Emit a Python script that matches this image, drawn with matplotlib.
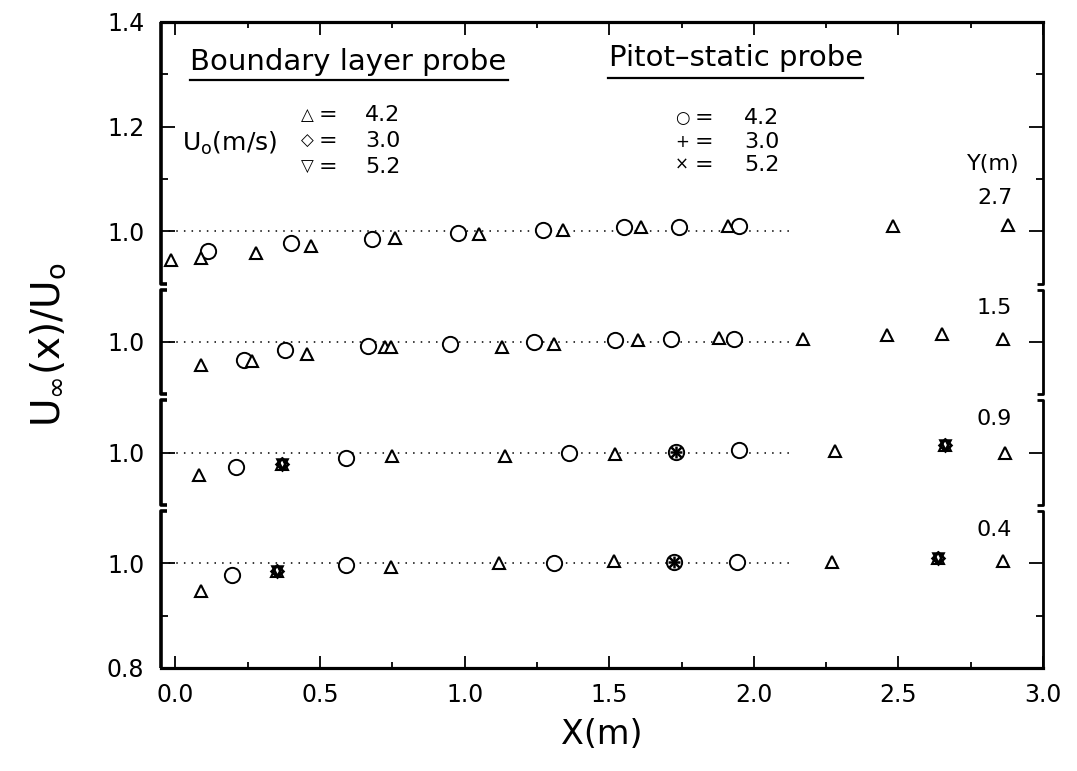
import matplotlib
matplotlib.use("Agg")
import matplotlib.pyplot as plt
import matplotlib.transforms as mtransforms
from matplotlib.ticker import FixedLocator, MultipleLocator

plt.rcParams['font.family'] = ['DejaVu Sans']
plt.rcParams['mathtext.fontset'] = 'dejavusans'

# ---------------- data ----------------
station_labels = ["2.7", "1.5", "0.9", "0.4"]          # Y(m), top to bottom
x_ticks = [0.0, 0.5, 1.0, 1.5, 2.0, 2.5, 3.0]
x_tick_labels = ["0.0", "0.5", "1.0", "1.5", "2.0", "2.5", "3.0"]

# Y = 2.7 m
y27_bl42_x = [-0.017, 0.09, 0.28, 0.47, 0.76, 1.05, 1.34, 1.61, 1.91, 2.48, 2.88]
y27_bl42_u = [0.945, 0.948, 0.958, 0.971, 0.988, 0.994, 1.002, 1.008, 1.010, 1.010, 1.011]
y27_ps42_x = [0.113, 0.40, 0.68, 0.976, 1.27, 1.55, 1.74, 1.95]
y27_ps42_u = [0.962, 0.978, 0.985, 0.996, 1.002, 1.008, 1.009, 1.010]

# Y = 1.5 m
y15_bl42_x = [0.09, 0.265, 0.455, 0.725, 0.745, 1.13, 1.31, 1.60, 1.88, 2.17, 2.46, 2.65, 2.86]
y15_bl42_u = [0.956, 0.964, 0.977, 0.990, 0.991, 0.990, 0.997, 1.003, 1.007, 1.005, 1.013, 1.015, 1.005]
y15_ps42_x = [0.237, 0.38, 0.667, 0.95, 1.24, 1.52, 1.715, 1.93]
y15_ps42_u = [0.965, 0.984, 0.992, 0.997, 1.000, 1.003, 1.006, 1.005]

# Y = 0.9 m
y09_bl42_x = [0.08, 0.37, 0.75, 1.14, 1.52, 2.28, 2.66, 2.87]
y09_bl42_u = [0.958, 0.979, 0.994, 0.994, 0.997, 1.004, 1.015, 1.000]
y09_bl30_x = [0.37, 2.66]
y09_bl30_u = [0.979, 1.015]
y09_bl52_x = [0.37, 2.66]
y09_bl52_u = [0.979, 1.015]
y09_ps42_x = [0.21, 0.59, 1.36, 1.73, 1.95]
y09_ps42_u = [0.973, 0.990, 1.000, 1.002, 1.005]
y09_ps30_x = [1.73]
y09_ps30_u = [1.002]
y09_ps52_x = [1.73]
y09_ps52_u = [1.002]

# Y = 0.4 m
y04_bl42_x = [0.09, 0.35, 0.745, 1.12, 1.515, 2.27, 2.635, 2.86]
y04_bl42_u = [0.948, 0.985, 0.993, 1.000, 1.004, 1.002, 1.011, 1.005]
y04_bl30_x = [0.35, 2.635]
y04_bl30_u = [0.985, 1.011]
y04_bl52_x = [0.35, 2.635]
y04_bl52_u = [0.985, 1.011]
y04_ps42_x = [0.196, 0.59, 1.31, 1.725, 1.94]
y04_ps42_u = [0.977, 0.996, 1.001, 1.003, 1.003]
y04_ps30_x = [1.725]
y04_ps30_u = [1.003]
y04_ps52_x = [1.725]
y04_ps52_u = [1.003]

# ---------------- layout ----------------
STEP = 0.2115                      # vertical shift between stacked stations
offsets = [3 * STEP, 2 * STEP, STEP, 0.0]   # top to bottom
Y_LO, Y_HI = 0.8, 1.4 + 3 * STEP

fig = plt.figure(figsize=(10.77, 7.71), dpi=100)
ax = fig.add_axes([0.1495, 0.1336, 0.819, 0.838])
ax.set_xlim(-0.05, 3.0)
ax.set_ylim(Y_LO, Y_HI)

K = 'black'
tri = dict(marker='^', ms=9, mfc='white', mec=K, mew=1.5, ls='none', zorder=4)
dia = dict(marker='D', ms=6, mfc='none', mec=K, mew=1.8, ls='none', zorder=5)
tdn = dict(marker='v', ms=7.5, mfc='none', mec=K, mew=1.8, ls='none', zorder=5)
cir = dict(marker='o', ms=11, mfc='white', mec=K, mew=1.4, ls='none', zorder=4)
pls = dict(marker='+', ms=9, mec=K, mew=1.8, ls='none', zorder=5)
crs = dict(marker='x', ms=7, mec=K, mew=1.8, ls='none', zorder=5)


def shifted(vals, off):
    return [v + off for v in vals]


# dotted reference lines at U/U0 = 1
for off in offsets:
    ax.hlines(1.0 + off, -0.05, 2.12, colors=K, linestyles=(0, (1, 4)),
              linewidth=1.1, zorder=2)

o27, o15, o09, o04 = offsets
ax.plot(y27_ps42_x, shifted(y27_ps42_u, o27), **cir)
ax.plot(y27_bl42_x, shifted(y27_bl42_u, o27), **tri)

ax.plot(y15_ps42_x, shifted(y15_ps42_u, o15), **cir)
ax.plot(y15_bl42_x, shifted(y15_bl42_u, o15), **tri)

ax.plot(y09_ps42_x, shifted(y09_ps42_u, o09), **cir)
ax.plot(y09_bl42_x, shifted(y09_bl42_u, o09), **tri)
ax.plot(y09_bl30_x, shifted(y09_bl30_u, o09), **dia)
ax.plot(y09_bl52_x, shifted(y09_bl52_u, o09), **tdn)
ax.plot(y09_ps30_x, shifted(y09_ps30_u, o09), **pls)
ax.plot(y09_ps52_x, shifted(y09_ps52_u, o09), **crs)

ax.plot(y04_ps42_x, shifted(y04_ps42_u, o04), **cir)
ax.plot(y04_bl42_x, shifted(y04_bl42_u, o04), **tri)
ax.plot(y04_bl30_x, shifted(y04_bl30_u, o04), **dia)
ax.plot(y04_bl52_x, shifted(y04_bl52_u, o04), **tdn)
ax.plot(y04_ps30_x, shifted(y04_ps30_u, o04), **pls)
ax.plot(y04_ps52_x, shifted(y04_ps52_u, o04), **crs)

# ---------------- frame: broken side axes drawn as brackets ----------------
for side in ('left', 'right'):
    ax.spines[side].set_visible(False)
for side in ('top', 'bottom'):
    ax.spines[side].set_linewidth(2.3)

trans = mtransforms.blended_transform_factory(ax.transAxes, ax.transData)
serif = 0.007
for i, off in enumerate(offsets):
    lo = Y_LO if i == len(offsets) - 1 else 0.9 + off
    hi = Y_HI if i == 0 else 1.1 + off
    for xs, sgn, lw in ((0.0, 1, 2.6), (1.0, -1, 2.0)):
        px = [xs, xs]
        py = [lo, hi]
        if i != len(offsets) - 1:
            px = [xs + sgn * serif] + px
            py = [lo] + py
        if i != 0:
            px = px + [xs + sgn * serif]
            py = py + [hi]
        ax.plot(px, py, color=K, lw=lw, transform=trans, clip_on=False,
                solid_capstyle='butt', zorder=6)

# ---------------- ticks ----------------
ax.xaxis.set_major_locator(FixedLocator(x_ticks))
ax.set_xticklabels(x_tick_labels)
ax.xaxis.set_minor_locator(MultipleLocator(0.25))
ax.tick_params(axis='x', which='both', direction='in', top=True, bottom=True,
               width=1.3, labelsize=17, pad=11)
ax.tick_params(axis='x', which='major', length=9)
ax.tick_params(axis='x', which='minor', length=4.5)

y_major = [0.8] + [1.0 + off for off in reversed(offsets)] + [1.2 + o27, 1.4 + o27]
y_major_labels = ["0.8", "1.0", "1.0", "1.0", "1.0", "1.2", "1.4"]
y_minor = [0.9, 1.1 + o27, 1.3 + o27]
ax.yaxis.set_major_locator(FixedLocator(y_major))
ax.set_yticklabels(y_major_labels)
ax.yaxis.set_minor_locator(FixedLocator(y_minor))
ax.tick_params(axis='y', which='both', direction='in', left=True, right=True,
               width=1.3, labelsize=17, pad=12)
ax.tick_params(axis='y', which='major', length=10)
ax.tick_params(axis='y', which='minor', length=5)

ax.set_xlabel("X(m)", fontsize=24, labelpad=8)
ax.set_ylabel(r"U$_\infty$(x)/U$_\mathrm{o}$", fontsize=28, labelpad=28)

# ---------------- annotations ----------------
def fx(px):
    return (px - 161) / 882.0


def fy(py):
    return (668 - py) / 646.0


ax.text(fx(190), fy(62), "Boundary layer probe", transform=ax.transAxes,
        fontsize=21, ha='left', va='center')
ax.plot([fx(190), fx(508)], [fy(80), fy(80)], color=K, lw=1.6,
        transform=ax.transAxes, clip_on=False)
ax.text(fx(736), fy(58), "Pitot\u2013static probe", transform=ax.transAxes,
        fontsize=21, ha='center', va='center')
ax.plot([fx(608), fx(863)], [fy(78), fy(78)], color=K, lw=1.6,
        transform=ax.transAxes, clip_on=False)

ax.text(fx(182), fy(143), r"U$_\mathrm{o}$(m/s)", transform=ax.transAxes,
        fontsize=18, ha='left', va='center')

bl_symbols = ["\u25B3", "\u25C7", "\u25BD"]
ps_symbols = ["\u25CB", "+", "\u00D7"]
speed_labels = ["4.2", "3.0", "5.2"]
bl_rows = [115, 141, 167]
ps_rows = [118, 142, 165]
for sym, lab, py in zip(bl_symbols, speed_labels, bl_rows):
    ax.text(fx(307), fy(py), sym, transform=ax.transAxes, fontsize=12,
            ha='center', va='center')
    ax.text(fx(328), fy(py), "=", transform=ax.transAxes, fontsize=16,
            ha='center', va='center')
    ax.text(fx(383), fy(py), lab, transform=ax.transAxes, fontsize=16,
            ha='center', va='center')
for sym, lab, py in zip(ps_symbols, speed_labels, ps_rows):
    ax.text(fx(682), fy(py), sym, transform=ax.transAxes, fontsize=12,
            ha='center', va='center')
    ax.text(fx(704), fy(py), "=", transform=ax.transAxes, fontsize=16,
            ha='center', va='center')
    ax.text(fx(762), fy(py), lab, transform=ax.transAxes, fontsize=16,
            ha='center', va='center')

ax.text(0.943, 1.0 + o27 + 0.128, "Y(m)", transform=trans, fontsize=16,
        ha='center', va='center')
for lab, off in zip(station_labels, offsets):
    ax.text(0.945, 1.0 + off + 0.064, lab, transform=trans, fontsize=16,
            ha='center', va='center')

fig.savefig("out.png", dpi=100)
